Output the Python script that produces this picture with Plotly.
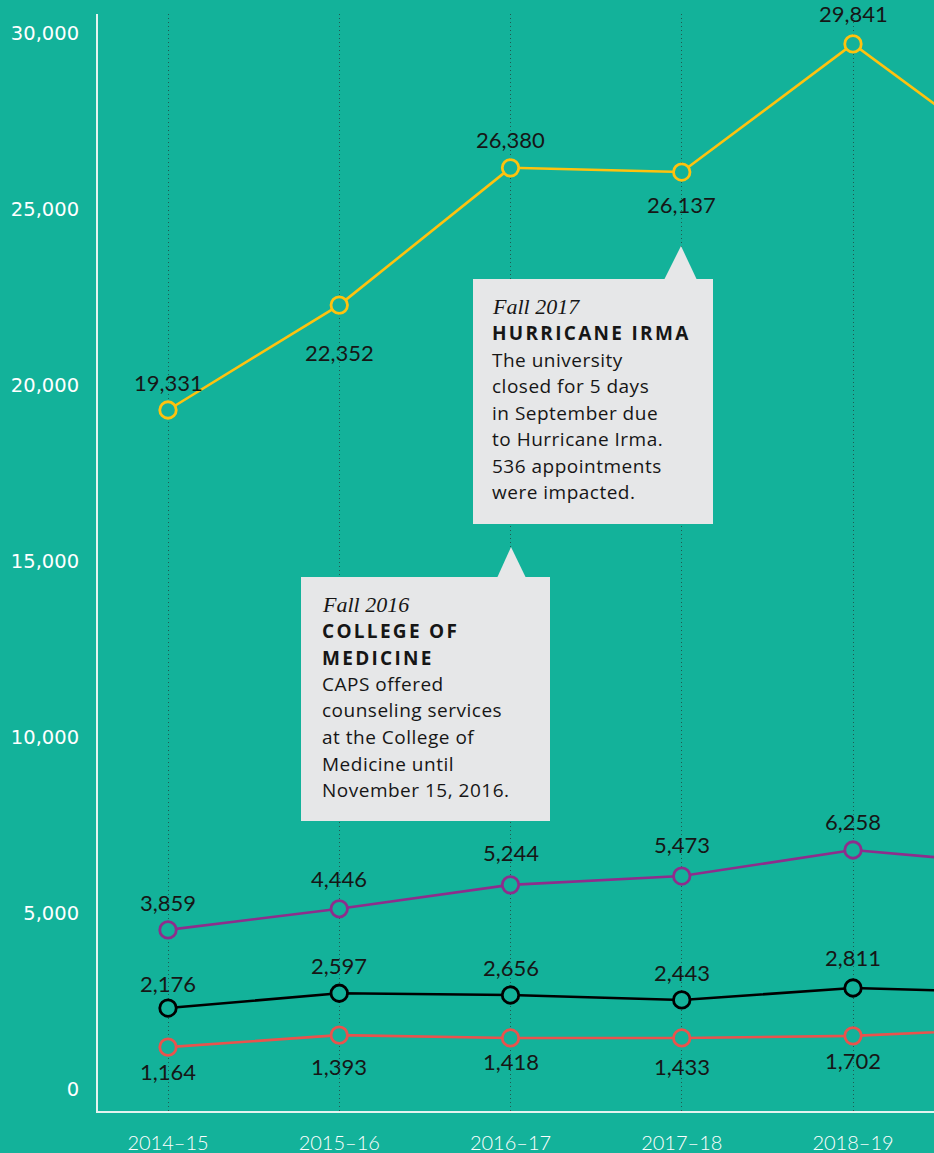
import plotly.graph_objects as go

# ---------------- data ----------------
categories = ["2014–15", "2015–16", "2016–17", "2017–18", "2018–19", "2019–20"]

yellow_values = [19290, 22270, 26170, 26050, 29690, 26110]
yellow_labels = ["19,331", "22,352", "26,380", "26,137", "29,841"]

purple_values = [4520, 5120, 5800, 6050, 6790, 6360]
purple_labels = ["3,859", "4,446", "5,244", "5,473", "6,258"]

black_values = [2300, 2720, 2670, 2530, 2870, 2730]
black_labels = ["2,176", "2,597", "2,656", "2,443", "2,811"]

red_values = [1190, 1530, 1450, 1450, 1510, 1730]
red_labels = ["1,164", "1,393", "1,418", "1,433", "1,702"]

y_ticks = [0, 5000, 10000, 15000, 20000, 25000, 30000]

note1_lines = ["Fall 2017", "HURRICANE IRMA", "The university", "closed for 5 days",
               "in September due", "to Hurricane Irma.", "536 appointments", "were impacted."]
note2_lines = ["Fall 2016", "COLLEGE OF", "MEDICINE", "CAPS offered", "counseling services",
               "at the College of", "Medicine until", "November 15, 2016."]

# ---------------- styles ----------------
BG = "#13B29A"
YELLOW = "#FFC20E"
PURPLE = "#8E2D8C"
BLACK = "#000000"
RED = "#E9534D"
BOX = "#E6E7E8"
TXT = "#161616"
FONT = "Lato"
BODY = "Open Sans"

W, H = 934, 1153
L, R, T, B = 98, 934, 14, 1111


def px_x(x):
    return (x - L) / (R - L)


def px_y(y):
    return (B - y) / (B - T)


xs = list(range(len(categories)))

fig = go.Figure()
series = [
    (yellow_values, YELLOW, yellow_labels, [28, -47, 28, -32, 30]),
    (purple_values, PURPLE, purple_labels, [27, 30, 32, 32, 28]),
    (black_values, BLACK, black_labels, [25, 28, 28, 27, 30]),
    (red_values, RED, red_labels, [-24, -31, -24, -29, -25]),
]
for vals, col, labels, shifts in series:
    fig.add_trace(go.Scatter(
        x=xs, y=vals, mode="lines+markers",
        line=dict(color=col, width=2.6),
        marker=dict(size=16.5, color=BG, line=dict(color=col, width=2.8)),
        hoverinfo="skip", showlegend=False,
    ))
    for i, (lab, s) in enumerate(zip(labels, shifts)):
        fig.add_annotation(x=xs[i], y=vals[i], text=lab, showarrow=False,
                           yshift=s, xanchor="center", yanchor="middle",
                           font=dict(family=FONT, size=22, color=TXT))

shapes = []


def callout(x0, y0, x1, y1, tb0, tb1, tip):
    shapes.append(dict(type="rect", xref="paper", yref="paper",
                       x0=px_x(x0), x1=px_x(x1), y0=px_y(y1), y1=px_y(y0),
                       fillcolor=BOX, line=dict(width=0), layer="above"))
    path = "M {},{} L {},{} L {},{} Z".format(px_x(tb0), px_y(y0 + 1), px_x(tip[0]), px_y(tip[1]),
                                              px_x(tb1), px_y(y0 + 1))
    shapes.append(dict(type="path", xref="paper", yref="paper", path=path,
                       fillcolor=BOX, line=dict(width=0), layer="above"))


callout(473, 279, 713, 524, 664, 697, (681, 246))
callout(301, 577, 550, 821, 497, 526, (511, 547))


def note(lines, x, y_first, heading_count):
    y = y_first
    for i, line in enumerate(lines):
        if i == 0:
            font = dict(family="Liberation Serif", size=22, color=TXT, style="italic")
            text = line
        elif i <= heading_count:
            font = dict(family=BODY, size=19, color=TXT, weight=700)
            text = '<span style="letter-spacing:2.3px">' + line + "</span>"
        else:
            font = dict(family=BODY, size=19, color=TXT)
            text = '<span style="letter-spacing:0.5px">' + line + "</span>"
        fig.add_annotation(xref="paper", yref="paper", x=px_x(x), y=px_y(y),
                           text=text, showarrow=False, xanchor="left", yanchor="middle",
                           font=font)
        y += 26.5


note(note1_lines, 490, 306.5, 1)
note(note2_lines, 320, 604.5, 2)

fig.update_layout(
    width=W, height=H,
    margin=dict(l=L, r=W - R, t=T, b=H - B, pad=0),
    paper_bgcolor=BG, plot_bgcolor=BG,
    shapes=shapes,
    showlegend=False,
    xaxis=dict(
        range=[(L - 168) / 171.25, (R - 168) / 171.25],
        tickvals=xs, ticktext=categories,
        showgrid=True, gridcolor="#1F5A52", griddash="1px,3px", gridwidth=1.2,
        zeroline=False, showline=True, linecolor="#E4F3EF", linewidth=2,
        ticks="", ticklabelstandoff=13,
        tickfont=dict(family=FONT, size=20, color="white", weight=300),
    ),
    yaxis=dict(
        range=[-625, 30540],
        tickvals=y_ticks, tickformat=",",
        showgrid=False, zeroline=False, showline=True, linecolor="#E4F3EF", linewidth=2,
        ticks="", ticklabelstandoff=13,
        tickfont=dict(family="DejaVu Sans", size=19.5, color="white"),
    ),
)

fig.write_html("out.html")
